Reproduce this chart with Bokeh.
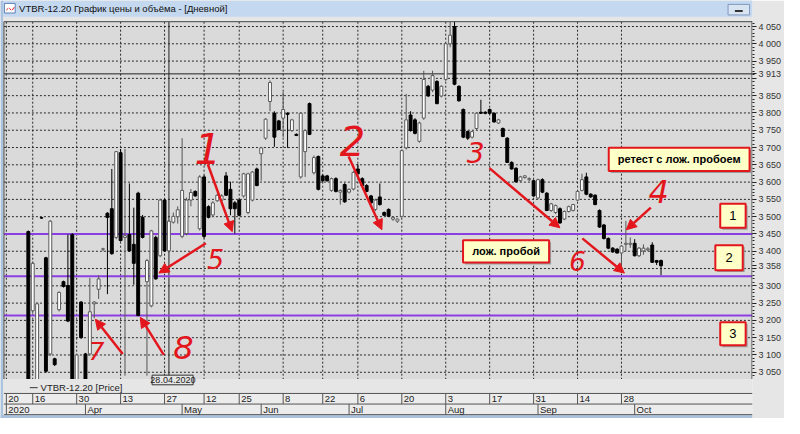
import numpy as np
from bokeh.plotting import figure
from bokeh.models import (Range1d, LinearAxis, FixedTicker, ColumnDataSource,
                          Arrow, NormalHead)
from bokeh.core.properties import value
from bokeh.embed import file_html
from bokeh.resources import INLINE

# ---------------- data ----------------
window_title = "VTBR-12.20 График цены и объёма - [Дневной]"
series_name = "VTBR-12.20 [Price]"

first_bar = 5   # bar index of 13.03.2020 (first visible candle)
opens = [3457, 3228, 2990, 3497, 3381, 3103, 3089, 3231, 3312, 3301, 3448, 2980, 3253, 3103, 3103,
         3248, 3290, 3406, 3510, 3523, 3440, 3685, 3440, 3448, 3420, 3568, 3498, 3312, 3242, 3440,
         3387, 3548, 3401, 3484, 3500, 3443, 3451, 3548, 3573, 3465, 3615, 3529, 3505, 3546, 3548,
         3618, 3579, 3540, 3548, 3560, 3512, 3548, 3638, 3682, 3727, 3833, 3799, 3777, 3785, 3799,
         3749, 3738, 3615, 3688, 3827, 3627, 3674, 3618, 3618, 3576, 3610, 3571, 3593, 3571, 3580,
         3638, 3610, 3590, 3560, 3521, 3557, 3512, 3521, 3493, 3487, 3501, 3699, 3794, 3780, 3718,
         3785, 3877, 3866, 3891, 3849, 3897, 4000, 4050, 3877, 3810, 3746, 3730, 3755, 3802, 3802,
         3810, 3799, 3771, 3755, 3727, 3657, 3640, 3604, 3613, 3607, 3604, 3554, 3607, 3568, 3518,
         3512, 3523, 3493, 3515, 3518, 3548, 3576, 3615, 3565, 3562, 3518, 3476, 3437, 3409, 3406,
         3395, 3420, 3420, 3423, 3387, 3401, 3404, 3418, 3373, 3373]
highs = [3460, 3370, 3252, 3499, 3384, 3490, 3092, 3284, 3315, 3448, 3452, 3103, 3256, 3106, 3323,
         3256, 3330, 3410, 3513, 3638, 3690, 3696, 3696, 3596, 3526, 3572, 3505, 3378, 3462, 3445,
         3552, 3552, 3490, 3512, 3530, 3727, 3555, 3580, 3576, 3620, 3620, 3533, 3545, 3566, 3565,
         3629, 3601, 3545, 3552, 3627, 3627, 3632, 3642, 3702, 3785, 3894, 3805, 3780, 3861, 3802,
         3783, 3741, 3802, 3752, 3830, 3677, 3677, 3622, 3621, 3613, 3614, 3579, 3597, 3582, 3632,
         3652, 3614, 3594, 3563, 3552, 3596, 3515, 3524, 3500, 3495, 3694, 3855, 3805, 3785, 3775,
         3922, 3881, 3922, 3895, 3880, 4003, 4069, 4069, 3880, 3813, 3749, 3748, 3802, 3838, 3805,
         3813, 3802, 3783, 3758, 3730, 3660, 3643, 3618, 3620, 3614, 3607, 3610, 3611, 3571, 3540,
         3535, 3527, 3518, 3532, 3537, 3576, 3624, 3627, 3568, 3565, 3521, 3479, 3440, 3412, 3409,
         3418, 3488, 3440, 3435, 3412, 3420, 3412, 3426, 3375, 3376]
lows = [2950, 3220, 2980, 3494, 3048, 3098, 3068, 3226, 3295, 3195, 2960, 2970, 3147, 2960, 3098,
        3206, 3262, 3400, 3276, 3390, 3435, 3428, 3040, 3398, 3303, 3212, 3437, 3040, 3238, 3318,
        3383, 3398, 3396, 3480, 3480, 3438, 3446, 3530, 3558, 3460, 3437, 3495, 3500, 3543, 3544,
        3560, 3504, 3451, 3501, 3555, 3507, 3544, 3588, 3604, 3722, 3805, 3702, 3750, 3730, 3699,
        3745, 3733, 3610, 3615, 3736, 3622, 3576, 3600, 3601, 3572, 3570, 3535, 3540, 3567, 3576,
        3623, 3588, 3571, 3538, 3516, 3532, 3502, 3499, 3488, 3482, 3498, 3694, 3746, 3738, 3714,
        3780, 3847, 3860, 3825, 3845, 3892, 3990, 3880, 3833, 3727, 3722, 3726, 3750, 3797, 3796,
        3796, 3772, 3768, 3730, 3655, 3636, 3598, 3600, 3610, 3603, 3558, 3550, 3568, 3516, 3514,
        3508, 3479, 3490, 3512, 3515, 3545, 3573, 3562, 3555, 3533, 3468, 3434, 3406, 3396, 3393,
        3337, 3400, 3410, 3385, 3383, 3390, 3400, 3366, 3360, 3331]
closes = [2980, 3365, 3248, 3496, 3053, 3487, 3072, 3281, 3298, 3198, 2990, 3100, 3150, 2990, 3225,
          3253, 3320, 3407, 3498, 3393, 3688, 3431, 3445, 3401, 3365, 3214, 3440, 3373, 3459, 3320,
          3548, 3401, 3487, 3501, 3520, 3576, 3548, 3570, 3560, 3615, 3443, 3498, 3540, 3562, 3560,
          3562, 3523, 3523, 3504, 3624, 3624, 3629, 3590, 3699, 3782, 3888, 3730, 3752, 3810, 3796,
          3780, 3735, 3799, 3749, 3738, 3671, 3579, 3604, 3604, 3610, 3573, 3576, 3543, 3579, 3628,
          3624, 3590, 3573, 3540, 3548, 3535, 3504, 3501, 3498, 3493, 3691, 3780, 3749, 3741, 3771,
          3897, 3849, 3908, 3827, 3877, 4000, 4025, 3883, 3835, 3730, 3727, 3746, 3799, 3799, 3799,
          3799, 3774, 3780, 3732, 3657, 3638, 3601, 3615, 3618, 3610, 3560, 3607, 3571, 3518, 3537,
          3532, 3482, 3515, 3529, 3535, 3573, 3607, 3565, 3557, 3535, 3470, 3437, 3409, 3398, 3395,
          3415, 3423, 3423, 3387, 3409, 3409, 3407, 3368, 3368, 3358]

day_labels = ["20", "16", "30", "13", "27", "12", "25", "8", "22", "6", "20", "3", "17", "31", "14", "28"]
day_bars = [0, 6, 16, 26, 36, 45, 53, 63, 72, 80, 90, 100, 110, 120, 130, 140]
month_labels = ["2020", "Apr", "May", "Jun", "Jul", "Aug", "Sep", "Oct"]
month_bars = [0, 18, 40, 58, 78, 100, 121, 143]
price_ticks = list(range(3050, 4051, 50))
levels = [3450, 3328, 3214]
last_price = 3358
cursor_price = 3913
cursor_bar = 37
cursor_date = "28.04.2020"

# ---------------- geometry helpers (reference pixels -> data) ----------------
PX0, PXS = 6.0, 4.493      # pixel of bar 0, pixels per bar
PY0, PYS = 27.0, 0.359     # pixel of price 4050, pixels per price unit


def X(px):
    return (px - PX0) / PXS


def Y(py):
    return 4050 - (py - PY0) / PYS


CL, CR, CT, CB = 3.5, 769.0, 22.0, 393.0
OUTER = "#e6e6e6"
CHART = "#dadada"
FRAME_BLUE = "#a9c2e0"
TITLE_BLUE = "#c4d8ef"
RED = "#e3161d"
PURPLE = "#8b3fe3"
FONT = value("Liberation Sans")

p = figure(width=784, height=418, x_range=Range1d(X(0), X(CR)), y_range=Range1d(Y(434), Y(0)),
           output_backend="svg", toolbar_location=None, x_axis_location=None, y_axis_location=None,
           title=None, min_border_left=0, min_border_right=30, min_border_top=0, min_border_bottom=0,
           background_fill_color=OUTER, border_fill_color=OUTER, outline_line_color=None)
p.grid.visible = False

# price axis on the right (the two price tags cover the 3 900 / 3 350 labels, as in the terminal)
tag_prices = [cursor_price, last_price]
ax = LinearAxis(ticker=FixedTicker(ticks=price_ticks + tag_prices,
                                   minor_ticks=list(range(3040, 4061, 10))))
ax.axis_line_color = None
ax.major_tick_out = 4
ax.major_tick_in = 0
ax.minor_tick_out = 2
ax.minor_tick_in = 0
ax.major_tick_line_color = "#222222"
ax.minor_tick_line_color = "#222222"
overrides = {t: f"{t:,}".replace(",", " ") for t in price_ticks + tag_prices}
overrides[3900] = ""
overrides[3350] = ""
ax.major_label_overrides = overrides
ax.major_label_text_font = "Liberation Sans"
ax.major_label_text_font_size = "9px"
ax.major_label_text_color = "#333333"
ax.major_label_standoff = 2
p.add_layout(ax, "right")

# chart area
p.quad(left=X(CL), right=X(CR), top=Y(CT), bottom=Y(CB), fill_color=CHART, line_color=None)

# grid
p.segment(x0=X(CL), x1=X(CR), y0=price_ticks, y1=price_ticks, line_color="#2a2a2a",
          line_dash="2 2", line_width=1)
p.segment(x0=day_bars, x1=day_bars, y0=Y(CT), y1=Y(CB), line_color="#2a2a2a",
          line_dash="2 2", line_width=1)

# cursor cross-hair
p.segment(x0=[X(CL), cursor_bar], x1=[X(CR), cursor_bar], y0=[cursor_price, Y(CT)],
          y1=[cursor_price, Y(CB)], line_color="#222222", line_width=1)

# support levels
p.segment(x0=X(CL), x1=X(CR), y0=levels, y1=levels, line_color=PURPLE, line_width=2)

# candles
bars = list(range(first_bar, first_bar + len(opens)))
o = np.array(opens, float)
c = np.array(closes, float)
up = c >= o
src_up = ColumnDataSource(dict(x=np.array(bars)[up], top=c[up], bottom=o[up],
                               high=np.array(highs)[up], low=np.array(lows)[up]))
src_dn = ColumnDataSource(dict(x=np.array(bars)[~up], top=o[~up], bottom=c[~up],
                               high=np.array(highs)[~up], low=np.array(lows)[~up]))
p.segment(x0="x", x1="x", y0="low", y1="high", source=src_up, line_color="#555555", line_width=1)
p.segment(x0="x", x1="x", y0="low", y1="high", source=src_dn, line_color="#000000", line_width=1)
p.vbar(x="x", width=0.66, top="top", bottom="bottom", source=src_up, fill_color="#ffffff",
       line_color="#5a5a5a", line_width=1)
p.vbar(x="x", width=0.66, top="top", bottom="bottom", source=src_dn, fill_color="#000000",
       line_color="#000000", line_width=1)

# covers outside chart area
p.quad(left=X(0), right=X(CR), top=Y(0), bottom=Y(CT), fill_color=OUTER, line_color=None)
p.quad(left=X(0), right=X(CR), top=Y(CB), bottom=Y(434), fill_color=OUTER, line_color=None)
p.quad(left=X(0), right=X(CL), top=Y(0), bottom=Y(434), fill_color=OUTER, line_color=None)

# chart borders
p.segment(x0=[X(CL), X(CL), X(CR - 0.5)], x1=[X(CR), X(CL), X(CR - 0.5)],
          y0=[Y(CT), Y(CT), Y(CT)], y1=[Y(CT), Y(CB), Y(CB)], line_color="#444444", line_width=1)

# window frame: title bar, left edge, bottom edge
p.quad(left=X(0), right=X(CR), top=Y(0), bottom=Y(17), fill_color=TITLE_BLUE, line_color=None)
p.quad(left=X(0), right=X(2.5), top=Y(0), bottom=Y(434), fill_color=FRAME_BLUE, line_color=None)
p.quad(left=X(0), right=X(CR), top=Y(430.5), bottom=Y(434), fill_color=FRAME_BLUE, line_color=None)
p.quad(left=X(4), right=X(15), top=Y(3), bottom=Y(13), fill_color="#ffffff", line_color="#5b7fb5")
p.segment(x0=[X(6), X(9), X(12)], x1=[X(8), X(11), X(14)], y0=[Y(10), Y(8), Y(10)],
          y1=[Y(8), Y(10), Y(7)], line_color=RED, line_width=1)
p.text(x=[X(19)], y=[Y(8.5)], text=[window_title], text_font=FONT, text_font_size=value("9.5px"),
       text_color="#111111", text_align="left", text_baseline="middle")
p.quad(left=X(744), right=X(766), top=Y(4), bottom=Y(15), fill_color="#d9e4f3", line_color="#7f98bd")
p.segment(x0=X(751), x1=X(759), y0=Y(11), y1=Y(11), line_color="#333333", line_width=2)

# legend row
p.segment(x0=X(30), x1=X(38), y0=Y(402), y1=Y(402), line_color="#333333", line_width=1)
p.text(x=[X(41)], y=[Y(402)], text=[series_name], text_font=FONT, text_font_size=value("9.5px"),
       text_color="#222222", text_align="left", text_baseline="middle")

# date rows
p.quad(left=X(CL), right=X(CR), top=Y(408), bottom=Y(430), fill_color="#ececec", line_color=None)
p.segment(x0=X(CL), x1=X(CR), y0=[Y(408), Y(419), Y(430)], y1=[Y(408), Y(419), Y(430)],
          line_color="#555555", line_width=1)
p.segment(x0=day_bars, x1=day_bars, y0=Y(408), y1=Y(419), line_color="#555555", line_width=1)
p.segment(x0=month_bars, x1=month_bars, y0=Y(419), y1=Y(430), line_color="#555555", line_width=1)
p.text(x=np.array(day_bars) + 2 / PXS, y=Y(413.8), text=day_labels, text_font=FONT,
       text_font_size=value("9.5px"), text_color="#222222", text_align="left", text_baseline="middle")
p.text(x=np.array(month_bars) + 2 / PXS, y=Y(424.8), text=month_labels, text_font=FONT,
       text_font_size=value("9.5px"), text_color="#222222", text_align="left", text_baseline="middle")

# cursor date tag
p.quad(left=X(155), right=X(197), top=Y(389), bottom=Y(399), fill_color=OUTER, line_color="#333333")
p.text(x=[cursor_bar + 0.9], y=[Y(394.2)], text=[cursor_date], text_font=FONT,
       text_font_size=value("9px"), text_color="#222222", text_align="center", text_baseline="middle")


# note boxes
def note(x0, y0, x1, y1, s, size, bold):
    p.quad(left=X(x0 + 2), right=X(x1 + 2), top=Y(y0 + 2), bottom=Y(y1 + 2),
           fill_color="#9a9a9a", line_color=None)
    p.quad(left=X(x0), right=X(x1), top=Y(y0), bottom=Y(y1), fill_color="#ffffc8",
           line_color=RED, line_width=2)
    p.text(x=[X((x0 + x1) / 2)], y=[Y((y0 + y1) / 2)], text=[s], text_font=FONT,
           text_font_size=value(size), text_font_style="bold" if bold else "normal",
           text_color="#000000", text_align="center", text_baseline="middle")


note(622, 153, 766, 177, "ретест с лож. пробоем", "11px", True)
note(473, 249, 561, 272, "лож. пробой", "11px", True)
note(736, 211, 762, 236, "1", "13px", False)
note(731, 254, 759, 280, "2", "13px", False)
note(736, 334, 762, 358, "3", "13px", False)

# hand-drawn marks
arrows = [((212, 170), (237, 240)), ((356, 162), (390, 238)), ((500, 174), (572, 236)),
          ((665, 215), (640, 238)), ((210, 252), (162, 283)), ((595, 247), (638, 283)),
          ((125, 367), (97, 331)), ((167, 368), (143, 329))]
for (xs, ys), (xe, ye) in arrows:
    p.add_layout(Arrow(end=NormalHead(size=10, fill_color=RED, line_color=RED),
                       x_start=X(xs), y_start=Y(ys), x_end=X(xe), y_end=Y(ye),
                       line_color=RED, line_width=2.5))

digits = [("1", 212, 154, "42px"), ("2", 360, 146, "40px"), ("3", 486, 158, "28px"),
          ("4", 673, 198, "32px"), ("5", 220, 268, "27px"), ("6", 590, 270, "26px"),
          ("7", 98, 364, "25px"), ("8", 187, 360, "32px")]
for s, dx, dy, fs in digits:
    p.text(x=[X(dx)], y=[Y(dy)], text=[s], text_font=value("DejaVu Sans"), text_font_size=value(fs),
           text_font_style="italic", text_color=RED, text_align="center", text_baseline="middle")

open("out.html", "w").write(file_html(p, INLINE))
